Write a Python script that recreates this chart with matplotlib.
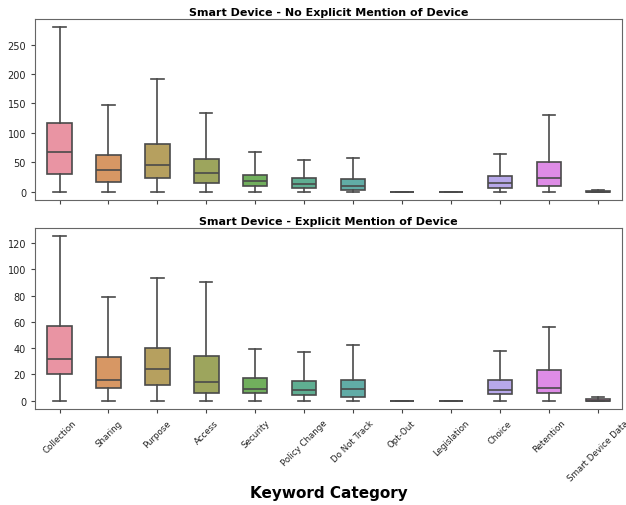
import numpy as np
import matplotlib
matplotlib.use("Agg")
import matplotlib.pyplot as plt
import seaborn as sns

categories = ["Collection", "Sharing", "Purpose", "Access", "Security", "Policy Change",
              "Do Not Track", "Opt-Out", "Legislation", "Choice", "Retention", "Smart Device Data"]

# no explicit mention: whisker low, q1, median, q3, whisker high
no_lo  = [0, 0, 0, 0, 0, 0, 0, 0, 0, 0, 0, 0]
no_q1  = [30, 17, 24, 15, 10, 7, 3, 0, 0, 7, 9, 0]
no_med = [67, 37, 45, 31, 18, 13, 10, 0, 0, 15, 24, 0]
no_q3  = [116, 63, 81, 56, 29, 23, 21, 0, 0, 26, 50, 1]
no_hi  = [279, 148, 191, 133, 67, 53, 57, 0, 0, 64, 131, 3]

# explicit mention
ex_lo  = [0, 0, 0, 0, 0, 0, 0, 0, 0, 0, 0, 0]
ex_q1  = [20, 10, 12, 6, 6, 4, 3, 0, 0, 5, 6, 0]
ex_med = [32, 16, 24, 14, 9, 8, 9, 0, 0, 8, 10, 0]
ex_q3  = [57, 33, 40, 34, 17, 15, 16, 0, 0, 16, 23, 1]
ex_hi  = [125, 79, 93, 90, 39, 37, 42, 0, 0, 38, 56, 3]

colors = [sns.desaturate(c, 0.75) for c in sns.color_palette("husl", len(categories))]
edge = "#4a4a4a"


def draw(ax, lo, q1, med, q3, hi, title):
    stats = []
    for i in range(len(categories)):
        stats.append(dict(whislo=lo[i], q1=q1[i], med=med[i], q3=q3[i], whishi=hi[i], fliers=[]))
    bp = ax.bxp(stats, positions=np.arange(len(categories)), widths=0.5, patch_artist=True,
                showfliers=False,
                boxprops=dict(edgecolor=edge, linewidth=1.2),
                medianprops=dict(color=edge, linewidth=1.2),
                whiskerprops=dict(color=edge, linewidth=1.2),
                capprops=dict(color=edge, linewidth=1.2))
    for patch, c in zip(bp["boxes"], colors):
        patch.set_facecolor(c + (0.85,))
    ax.set_xlim(-0.5, len(categories) - 0.5)
    ax.set_title(title, fontsize=8, fontweight="bold", pad=3)
    ax.tick_params(labelsize=7, length=3, color="#444444", labelcolor="#222222")
    for s in ax.spines.values():
        s.set_edgecolor("#666666")


fig = plt.figure(figsize=(6.26, 5.06), dpi=100)
ax1 = fig.add_axes([0.056, 0.603, 0.938, 0.357])
ax2 = fig.add_axes([0.056, 0.190, 0.938, 0.357])

draw(ax1, no_lo, no_q1, no_med, no_q3, no_hi, "Smart Device - No Explicit Mention of Device")
ax1.set_xticks(np.arange(len(categories)))
ax1.set_xticklabels([])

draw(ax2, ex_lo, ex_q1, ex_med, ex_q3, ex_hi, "Smart Device - Explicit Mention of Device")
ax2.set_xticks(np.arange(len(categories)))
ax2.set_xticklabels(categories, rotation=45, fontsize=6.2)
ax2.set_xlabel("Keyword Category", fontsize=11, fontweight="bold", labelpad=2)

fig.savefig("out.png", dpi=100)
